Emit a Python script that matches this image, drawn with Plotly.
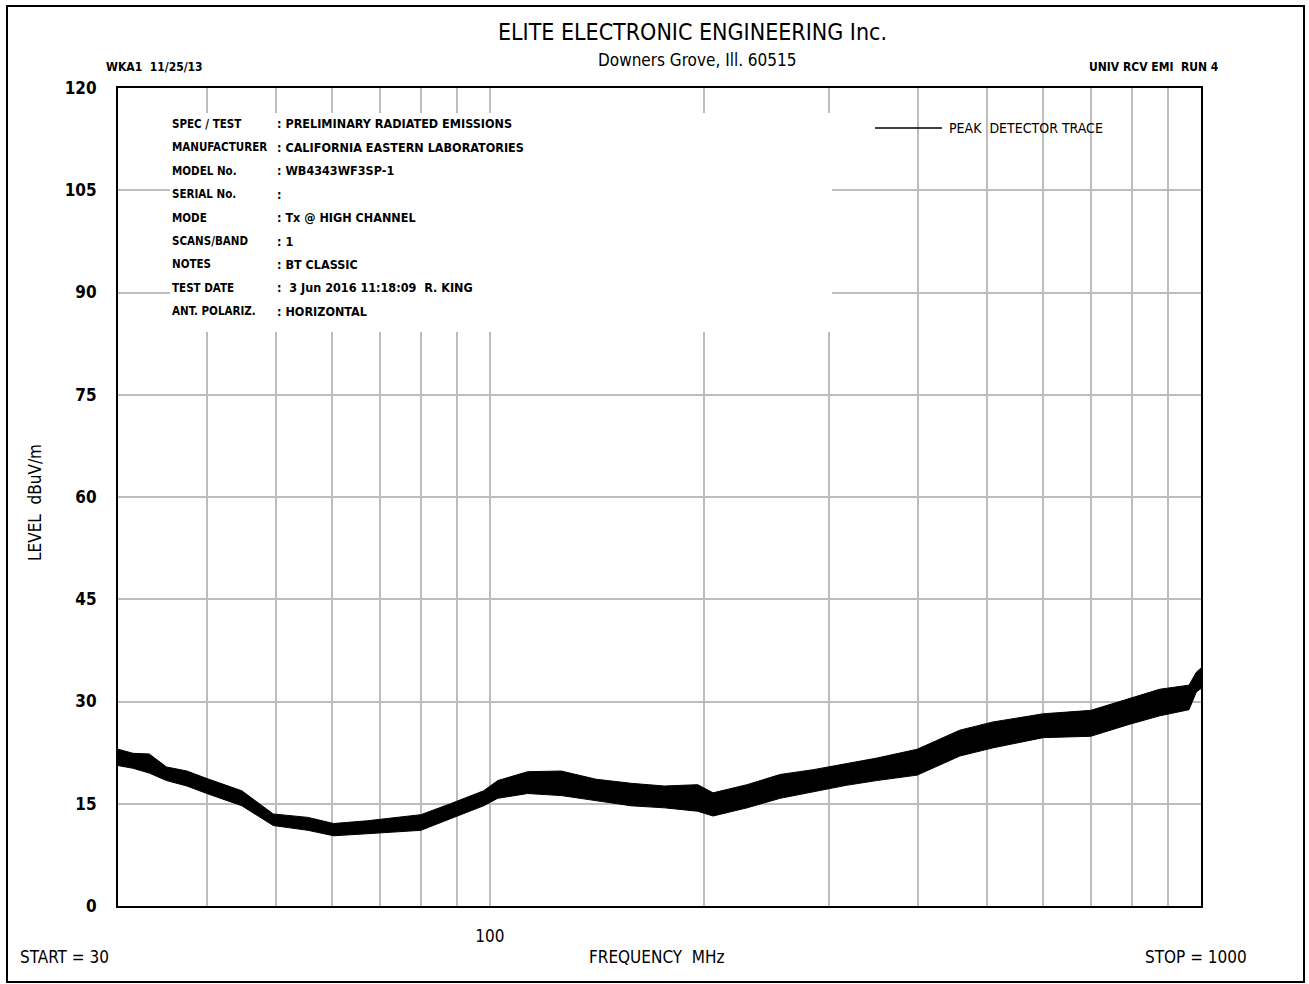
import math
import plotly.graph_objects as go

# ---- data ----
freq_mhz = [30, 31.5, 33.2, 35.1, 37.5, 40, 44.8, 49.6, 55.5, 60.3, 67.2, 74.9, 80, 88, 98,
            102.6, 113, 126, 141, 158, 176, 196, 206, 230, 256, 285, 317, 350,
            399, 458, 510, 600, 700, 790, 875, 962, 985, 1000]
level_upper = [23.0, 22.4, 22.3, 20.4, 19.8, 18.7, 16.9, 13.5, 13.0, 12.1, 12.5, 13.0, 13.4, 15.0,
               16.9, 18.4, 19.7, 19.8, 18.6, 18.0, 17.6, 17.8, 16.6, 17.8, 19.3, 20.0,
               20.9, 21.7, 23.0, 25.8, 27.0, 28.2, 28.7, 30.4, 31.8, 32.4, 34.3, 34.9]
level_lower = [20.6, 20.2, 19.5, 18.4, 17.6, 16.5, 14.7, 11.8, 11.1, 10.3, 10.6, 10.9, 11.1, 12.8,
               14.7, 15.8, 16.5, 16.2, 15.5, 14.7, 14.4, 13.9, 13.2, 14.4, 15.8, 16.8,
               17.7, 18.4, 19.2, 22.0, 23.2, 24.7, 24.9, 26.6, 27.9, 28.8, 31.4, 31.9]

grid_freqs = [40, 50, 60, 70, 80, 90, 100, 200, 300, 400, 500, 600, 700, 800, 900]
grid_labels = ["", "", "", "", "", "", "100", "", "", "", "", "", "", "", ""]
y_ticks = [0, 15, 30, 45, 60, 75, 90, 105, 120]

info_labels = ["SPEC / TEST", "MANUFACTURER", "MODEL No.", "SERIAL No.", "MODE",
               "SCANS/BAND", "NOTES", "TEST DATE", "ANT. POLARIZ."]
info_values = [": PRELIMINARY RADIATED EMISSIONS", ": CALIFORNIA EASTERN LABORATORIES",
               ": WB4343WF3SP-1", ":", ": Tx @ HIGH CHANNEL", ": 1", ": BT CLASSIC",
               ":  3 Jun 2016 11:18:09  R. KING", ": HORIZONTAL"]

W, H = 1309, 984
L, R, T, B = 118, 1201, 88, 906


def px(x):
    return (x - L) / (R - L)


def py(y):
    return (B - y) / (B - T)


NARROW = "DejaVu Sans Condensed, Liberation Sans Narrow, sans-serif"

fig = go.Figure()
fig.add_trace(go.Scatter(x=freq_mhz, y=level_lower, mode="lines",
                         line=dict(color="black", width=1), showlegend=False,
                         hoverinfo="skip"))
fig.add_trace(go.Scatter(x=freq_mhz, y=level_upper, mode="lines", fill="tonexty",
                         fillcolor="black", line=dict(color="black", width=1),
                         showlegend=False, name="PEAK DETECTOR TRACE"))

ann = []


def text(x, y, s, size, xanchor="left", bold=False, font=NARROW, **kw):
    s = s.replace("  ", "\u00a0\u00a0")
    if bold:
        s = "<b>" + s + "</b>"
    ann.append(dict(x=px(x), y=py(y), xref="paper", yref="paper", text=s,
                    showarrow=False, xanchor=xanchor, yanchor="middle",
                    font=dict(family=font, size=size, color="black"), **kw))


text(692, 32, "ELITE ELECTRONIC ENGINEERING Inc.", 23, xanchor="center")
text(697, 60, "Downers Grove, Ill. 60515", 17, xanchor="center")
text(104, 67, "WKA1  11/25/13", 12, bold=True)
text(1221, 67, "UNIV RCV EMI  RUN 4", 12, xanchor="right", bold=True)
text(64, 957, "START = 30", 17, xanchor="center")
text(657, 957, "FREQUENCY  MHz", 17, xanchor="center")
text(1196, 957, "STOP = 1000", 17, xanchor="center")
ann.append(dict(x=px(35), y=py(503), xref="paper", yref="paper",
                text="LEVEL\u00a0\u00a0dBuV/m", showarrow=False, textangle=-90,
                xanchor="center", yanchor="middle",
                font=dict(family=NARROW, size=17, color="black")))

y0 = 124
for i, (lab, val) in enumerate(zip(info_labels, info_values)):
    yy = y0 + i * 23.4
    text(170, yy, lab, 11.5, bold=True)
    text(275, yy, val, 12.5, bold=True)

text(947, 128, "PEAK  DETECTOR TRACE", 14)

shapes = [
    dict(type="rect", xref="paper", yref="paper", x0=px(170), x1=px(832),
         y0=py(113), y1=py(332), fillcolor="white", line=dict(width=0), layer="above"),
    dict(type="line", xref="paper", yref="paper", x0=px(875), x1=px(942),
         y0=py(128), y1=py(128), line=dict(color="black", width=1.5)),
    dict(type="rect", xref="paper", yref="paper", x0=px(7), x1=px(1304),
         y0=py(6), y1=py(982), line=dict(color="black", width=2),
         fillcolor="rgba(0,0,0,0)", layer="above"),
]

fig.update_layout(
    width=W, height=H, autosize=False,
    margin=dict(l=L, r=W - R, t=T, b=H - B, pad=0),
    paper_bgcolor="white", plot_bgcolor="white",
    annotations=ann, shapes=shapes, showlegend=False,
    xaxis=dict(type="log", range=[math.log10(30), 3], tickmode="array",
               tickvals=grid_freqs, ticktext=grid_labels, showgrid=True,
               gridcolor="#bdbdbd", gridwidth=2, showline=True, mirror=True,
               linecolor="black", linewidth=2, ticks="", zeroline=False,
               ticklabelstandoff=14,
               tickfont=dict(family=NARROW, size=17, color="black")),
    yaxis=dict(range=[0, 120], tickmode="array", tickvals=y_ticks,
               ticktext=["<b>%d</b>" % v for v in y_ticks], showgrid=True,
               gridcolor="#bdbdbd", gridwidth=2, showline=True, mirror=True,
               linecolor="black", linewidth=2, ticks="", zeroline=False,
               ticklabelstandoff=16,
               tickfont=dict(family=NARROW, size=17, color="black")),
)

fig.write_html("out.html", config={"displayModeBar": False})
with open("out.html", "r", encoding="utf-8") as f:
    html = f.read()
html = html.replace("<head>", "<head><style>html,body{margin:0;padding:0;overflow:hidden}</style>", 1)
with open("out.html", "w", encoding="utf-8") as f:
    f.write(html)
